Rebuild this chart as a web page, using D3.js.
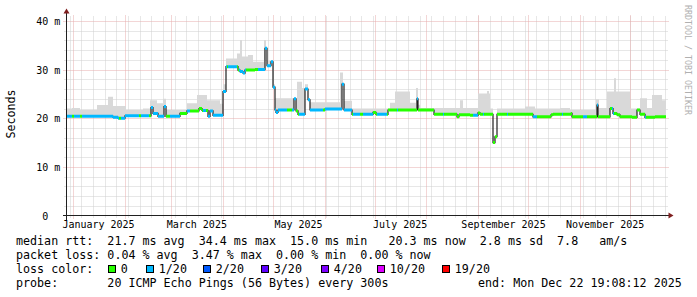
<!DOCTYPE html>
<html>
<head>
<meta charset="utf-8">
<script src="https://cdn.jsdelivr.net/npm/d3@7"></script>
<style>
  body { margin: 0; background: #fff; }
  svg text { font-family: "DejaVu Sans Mono", monospace; white-space: pre; }
</style>
</head>
<body>
<svg id="chart" width="697" height="297"></svg>
<script>
// 360 day window ending at the probe time
const endTime = new Date(Date.UTC(2025, 11, 22, 19, 8, 12));
const startTime = new Date(endTime.getTime() - 360 * 864e5);

// median rtt (ms), step changes, day = days since window start
const medianDay = [0, 28.2, 31.2, 35.4, 51, 52.2, 55.2, 58.8, 60, 68.4,
  72.6, 79.8, 81.6, 85.2, 86.4, 88.2, 94.2, 96, 103.2, 104.4,
  106.2, 107.4, 113.4, 119.4, 120.6, 123, 124.2, 125.4, 126, 127.2,
  136.8, 138, 139.2, 143.4, 145.2, 146.4, 155.4, 165.6, 166.8, 171.6,
  184.2, 186, 193.2, 210.6, 211.2, 220.8, 234.6, 235.8, 242.4, 247.2,
  248.4, 256.2, 257.4, 258.6, 280.2, 291, 292.2, 303, 303.6, 318.6,
  319.2, 326.4, 328.2, 330.6, 332.4, 339.6, 342.6, 344.4, 347.4, 353.4];
const medianMs = [20.4, 20.2, 20.0, 20.5, 22.2, 21.0, 20.4, 22.4, 20.4, 21.0,
  21.5, 22.0, 21.6, 20.4, 21.5, 20.6, 25.5, 30.6, 29.9, 29.6,
  29.3, 29.9, 30.0, 34.4, 30.8, 31.6, 26.4, 21.7, 21.2, 21.7,
  24.0, 21.5, 20.8, 26.0, 23.8, 21.7, 21.9, 27.0, 21.7, 20.8,
  21.2, 20.8, 21.7, 24.0, 21.7, 20.8, 20.3, 20.7, 20.6, 21.1,
  20.8, 15.0, 16.2, 20.8, 20.3, 20.7, 20.8, 21.0, 20.3, 22.7,
  20.3, 22.0, 21.0, 20.7, 20.3, 20.2, 21.7, 20.8, 20.2, 20.3];

// loss level (index into lossColors), step changes
const lossDay = [0, 3.6, 4.8, 8.4, 9.6, 31.8, 33, 43.8, 45, 49.8,
  51, 60, 62.4, 68.4, 72.6, 74.4, 82.2, 84, 85.2, 96.6,
  97.2, 102.6, 103.8, 108, 115.2, 132.6, 135.6, 138, 139.8, 154.2,
  155.4, 171.6, 172.2, 176.4, 178.2, 184.2, 186.6, 192.6, 198.6, 199.2,
  210.6, 211.2, 226.2, 226.8, 244.2, 247.2, 250.2, 250.8, 264.6, 265.2,
  280.2, 282.6, 297.6, 298.2, 310.2, 312.6, 318.6, 319.2, 327.6, 328.8,
  347.4, 348];
const lossLvl = [1, 0, 1, 0, 1, 0, 1, 0, 1, 0,
  1, 0, 1, 0, 1, 0, 1, 0, 1, 0,
  1, 0, 1, 0, 1, 0, 1, 0, 1, 0,
  1, 0, 1, 0, 1, 0, 1, 0, 1, 0,
  1, 0, 1, 0, 1, 0, 1, 0, 1, 0,
  1, 0, 1, 0, 1, 0, 1, 0, 1, 0,
  1, 0];

// smoke top (max rtt, ms), step changes
const smokeDay = [0, 3.6, 8.4, 18.6, 25.2, 28.2, 36, 46.2, 50.4, 54.6,
  58.2, 60, 72.6, 78.6, 84.6, 92.4, 94.2, 96, 102.6, 104.4,
  105.6, 109.2, 112.2, 118.8, 120, 124.8, 125.4, 138.6, 141.6, 143.4,
  145.2, 164.4, 166.2, 171.6, 194.4, 197.4, 206.4, 210, 211.2, 212.4,
  236.4, 238.2, 247.2, 252.6, 253.8, 254.4, 256.2, 258.6, 275.4, 281.4,
  296.4, 302.4, 318, 319.8, 324.6, 328.8, 330, 338.4, 344.4, 348.6,
  351.6, 357.6];
const smokeMs = [22.0, 22.1, 21.7, 22.7, 24.4, 22.5, 21.7, 22.0, 23.7, 23.1,
  24.0, 21.7, 23.1, 24.8, 23.7, 23.0, 27.0, 32.3, 33.3, 36.1,
  32.7, 33.0, 31.6, 36.1, 31.8, 27.0, 24.1, 27.5, 26.2, 27.0,
  23.3, 29.4, 23.6, 22.0, 23.2, 25.5, 23.2, 26.2, 22.8, 22.1,
  23.7, 22.1, 25.1, 25.6, 25.1, 22.0, 16.4, 22.0, 22.4, 22.0,
  22.1, 21.7, 23.9, 22.1, 25.5, 28.2, 25.5, 22.0, 24.1, 22.1,
  24.8, 23.7];

const lossLabels = ["0", "1/20", "2/20", "3/20", "4/20", "10/20", "19/20"];
const lossColors = ["#26ff00", "#00b8ff", "#0059ff", "#5e00ff", "#7e00ff", "#dd00ff", "#ff0000"];

const xLabels = ["January 2025", "March 2025", "May 2025", "July 2025", "September 2025", "November 2025"];
const xLabelDates = ["2025-01-16", "2025-03-16", "2025-05-16", "2025-07-16", "2025-09-16", "2025-11-16"];
const yTicks = [0, 10, 20, 30, 40];
const yTickLabels = [" 0", "10 m", "20 m", "30 m", "40 m"];

const legendRows = [
  "median rtt:  21.7 ms avg  34.4 ms max  15.0 ms min   20.3 ms now  2.8 ms sd  7.8   am/s",
  "packet loss: 0.04 % avg  3.47 % max  0.00 % min  0.00 % now",
  "loss color:",
  "probe:       20 ICMP Echo Pings (56 Bytes) every 300s"
];
const endLabel = "end: Mon Dec 22 19:08:12 2025";

// ---- layout
const X0 = 66.5, X1 = 666.5, Y0 = 215.5, YTOP = 15.5;
const legendFont = 11.68;

const svg = d3.select('#chart');
const defs = svg.append('defs');

const x = d3.scaleUtc().domain([startTime, endTime]).range([66, 666]);
const y = d3.scaleLinear().domain([0, 41.13]).range([Y0, YTOP]);
const px = v => Math.round(v) + 0.5;
const dayToDate = d => new Date(startTime.getTime() + d * 864e5);

const medPts = medianDay.map((d, i) => ({ t: dayToDate(d), v: medianMs[i] }));
medPts.push({ t: endTime, v: medianMs[medianMs.length - 1] });
const smokePts = smokeDay.map((d, i) => ({ t: dayToDate(d), v: smokeMs[i] }));
smokePts.push({ t: endTime, v: smokeMs[smokeMs.length - 1] });

// ---- grid (dotted, light)
const grid = svg.append('g');
const minorColor = '#cfcfcf', majorColor = '#e6acac';

const minorY = d3.range(2, 41, 2).filter(v => v % 10 !== 0);
grid.selectAll('line.hmin').data(minorY).join('line')
  .attr('x1', X0 - 2).attr('x2', X1 + 2)
  .attr('y1', d => px(y(d))).attr('y2', d => px(y(d)))
  .attr('stroke', minorColor).attr('stroke-dasharray', '1,1');

const weeks = d3.utcMonday.range(startTime, endTime);
grid.selectAll('line.vmin').data(weeks).join('line')
  .attr('x1', d => px(x(d))).attr('x2', d => px(x(d)))
  .attr('y1', Y0 + 2).attr('y2', YTOP)
  .attr('stroke', minorColor).attr('stroke-dasharray', '1,1');

const months = d3.utcMonth.range(startTime, endTime);
grid.selectAll('line.vmaj').data(months).join('line')
  .attr('x1', d => px(x(d))).attr('x2', d => px(x(d)))
  .attr('y1', Y0 + 3).attr('y2', YTOP)
  .attr('stroke', majorColor).attr('stroke-dasharray', '1,1');

grid.selectAll('line.hmaj').data(yTicks.filter(v => v > 0)).join('line')
  .attr('x1', X0 - 3).attr('x2', X1 + 2)
  .attr('y1', d => px(y(d))).attr('y2', d => px(y(d)))
  .attr('stroke', majorColor).attr('stroke-dasharray', '1,1');

// ---- smoke, only above the median line
defs.append('clipPath').attr('id', 'aboveMedian').append('path')
  .attr('d', d3.area().curve(d3.curveStepAfter)
    .x(d => x(d.t)).y0(YTOP).y1(d => y(d.v))(medPts));

svg.append('path')
  .attr('clip-path', 'url(#aboveMedian)')
  .attr('fill', '#d9d9d9')
  .attr('d', d3.area().curve(d3.curveStepAfter)
    .x(d => x(d.t)).y0(Y0).y1(d => y(d.v))(smokePts));

// ---- median line
svg.append('path')
  .attr('fill', 'none')
  .attr('stroke', '#202020')
  .attr('stroke-width', 1.2)
  .attr('d', d3.line().curve(d3.curveStepAfter).x(d => x(d.t)).y(d => y(d.v))(medPts));

// ---- loss coloured band on the median
const bandD = medPts.slice(0, -1)
  .map((p, i) => `M${x(p.t)},${y(p.v)}H${x(medPts[i + 1].t)}`).join('');

d3.range(lossColors.length).forEach(level => {
  const segs = lossDay.map((d, i) => ({ a: d, b: i + 1 < lossDay.length ? lossDay[i + 1] : 360, l: lossLvl[i] }))
    .filter(s => s.l === level);
  if (!segs.length) return;
  defs.append('clipPath').attr('id', 'loss' + level)
    .selectAll('rect').data(segs).join('rect')
    .attr('x', s => x(dayToDate(s.a))).attr('width', s => x(dayToDate(s.b)) - x(dayToDate(s.a)))
    .attr('y', 0).attr('height', 297);
  svg.append('path')
    .attr('clip-path', `url(#loss${level})`)
    .attr('fill', 'none')
    .attr('stroke', lossColors[level])
    .attr('stroke-width', 3)
    .attr('d', bandD);
});

// ---- axes
const axisColor = '#202020', arrowColor = '#7f1f1f';
svg.append('line').attr('x1', X0 - 4).attr('x2', X1 + 4).attr('y1', Y0).attr('y2', Y0)
  .attr('stroke', axisColor).attr('shape-rendering', 'crispEdges');
svg.append('line').attr('x1', X0).attr('x2', X0).attr('y1', Y0 + 4).attr('y2', YTOP - 4)
  .attr('stroke', axisColor).attr('shape-rendering', 'crispEdges');
svg.append('polygon').attr('fill', arrowColor)
  .attr('points', [[X1 + 2, Y0 - 3], [X1 + 2, Y0 + 3], [X1 + 7, Y0]].join(' '));
svg.append('polygon').attr('fill', arrowColor)
  .attr('points', [[X0 - 3, YTOP - 2], [X0 + 3, YTOP - 2], [X0, YTOP - 7]].join(' '));

const xAxis = d3.axisBottom(x)
  .tickValues(xLabelDates.map(s => new Date(s + 'T00:00:00Z')))
  .tickFormat((d, i) => xLabels[i])
  .tickSize(0);
const gx = svg.append('g').attr('transform', `translate(0,${Y0})`).call(xAxis);
gx.select('.domain').remove();
gx.selectAll('text')
  .attr('y', 12).attr('dy', 0)
  .attr('fill', '#000')
  .style('font-family', '"DejaVu Sans Mono", monospace')
  .style('font-size', '10px');

const yAxis = d3.axisLeft(y)
  .tickValues(yTicks)
  .tickFormat((d, i) => yTickLabels[i])
  .tickSize(0);
const gy = svg.append('g').attr('transform', `translate(${X0},0)`).call(yAxis);
gy.select('.domain').remove();
gy.selectAll('.tick').attr('transform', d => `translate(0,${px(y(d))})`);
gy.selectAll('text')
  .attr('x', 36.3 - X0).attr('y', 3.6).attr('dy', 0)
  .attr('text-anchor', 'start')
  .attr('fill', '#000')
  .style('font-family', '"DejaVu Sans Mono", monospace')
  .style('font-size', '10px');

svg.append('text')
  .attr('transform', 'translate(15,114) rotate(-90)')
  .attr('text-anchor', 'middle')
  .attr('font-size', legendFont)
  .attr('fill', '#000')
  .text('Seconds');

svg.append('text')
  .attr('transform', 'translate(685,5) rotate(90)')
  .attr('font-size', 8.3)
  .attr('fill', '#b0b0b0')
  .text('RRDTOOL / TOBI OETIKER');

// ---- legend
const legendY = [245, 259, 273, 287];
svg.append('g').selectAll('text').data(legendRows).join('text')
  .attr('x', 16).attr('y', (d, i) => legendY[i])
  .attr('font-size', legendFont).attr('fill', '#000')
  .text(d => d);

svg.append('text')
  .attr('x', 478).attr('y', legendY[3])
  .attr('font-size', legendFont).attr('fill', '#000')
  .text(endLabel);

const boxX = [108.5, 146.5, 203.5, 261.5, 321.5, 377.5, 442.5];
const lg = svg.append('g');
lg.selectAll('rect').data(lossColors).join('rect')
  .attr('x', (d, i) => boxX[i]).attr('y', 265.5)
  .attr('width', 7).attr('height', 7)
  .attr('fill', d => d).attr('stroke', '#000').attr('stroke-width', 1)
  .attr('shape-rendering', 'crispEdges');
lg.selectAll('text').data(lossLabels).join('text')
  .attr('x', (d, i) => boxX[i] + 12.3).attr('y', legendY[2])
  .attr('font-size', legendFont).attr('fill', '#000')
  .text(d => d);
</script>
</body>
</html>
